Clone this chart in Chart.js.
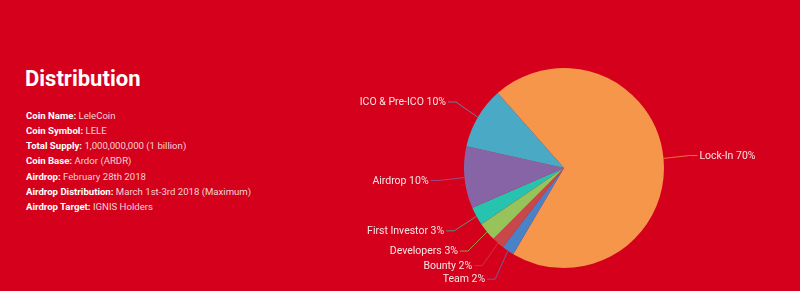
<!DOCTYPE html>
<html><head><meta charset="utf-8">
<script src="https://cdn.jsdelivr.net/npm/chart.js@4/dist/chart.umd.min.js"></script>
<style>
html,body{margin:0;padding:0;width:800px;height:291px;overflow:hidden;background:#D5001B;font-family:Roboto,sans-serif;}
#title{position:absolute;left:25px;top:65.5px;font:700 22px/26px Roboto,sans-serif;color:#fff;margin:0;white-space:nowrap}
#info{position:absolute;left:26px;top:107.5px;font-size:9.6px;line-height:15.33px;color:#f4d2d5;white-space:nowrap}
#info b{color:#fff;font-weight:700}
#wrap{position:absolute;left:0;top:0;width:800px;height:291px}
</style></head><body>
<div id="title">Distribution</div>
<div id="info"></div>
<div id="wrap"><canvas id="c"></canvas></div>
<script>
const categories = ['Lock-In','Team','Bounty','Developers','First Investor','Airdrop','ICO & Pre-ICO'];
const shares = [70, 2, 2, 3, 3, 10, 10];
const sliceColors = ['#F5964A','#4A82C6','#C8474B','#98C35A','#28C3AE','#8764A5','#4AAAC6'];
const infoKeys = ['Coin Name:','Coin Symbol:','Total Supply:','Coin Base:','Airdrop:','Airdrop Distribution:','Airdrop Target:'];
const infoValues = ['LeleCoin','LELE','1,000,000,000 (1 billion)','Ardor (ARDR)','February 28th 2018','March 1st-3rd 2018 (Maximum)','IGNIS Holders'];

const info = document.getElementById('info');
infoKeys.forEach((k,i)=>{
  const d = document.createElement('div');
  const b = document.createElement('b'); b.textContent = k;
  d.appendChild(b); d.appendChild(document.createTextNode(' ' + infoValues[i]));
  info.appendChild(d);
});

const labelPlugin = {
  id:'outLabels',
  afterDatasetsDraw(chart){
    const ctx = chart.ctx;
    const meta = chart.getDatasetMeta(0);
    const items = [];
    meta.data.forEach((arc,i)=>{
      const p = arc.getProps(['x','y','startAngle','endAngle','outerRadius'], true);
      const mid = (p.startAngle+p.endAngle)/2;
      const cos=Math.cos(mid), sin=Math.sin(mid);
      items.push({i, ex:p.x+p.outerRadius*cos, ey:p.y+p.outerRadius*sin,
        ax:p.x+(p.outerRadius+30)*cos, ay:p.y+(p.outerRadius+30)*sin,
        left: cos<0, text: categories[i]+' '+shares[i]+'%'});
    });
    [true,false].forEach(side=>{
      const arr = items.filter(o=>o.left===side).sort((a,b)=>a.ay-b.ay);
      for(let k=1;k<arr.length;k++){ if(arr[k].ay < arr[k-1].ay+13.5) arr[k].ay = arr[k-1].ay+13.5; }
    });
    ctx.save();
    ctx.font = '10.5px Roboto, sans-serif';
    ctx.textBaseline='middle';
    items.forEach(o=>{
      const dir = o.left?-1:1;
      ctx.globalAlpha=0.75; ctx.strokeStyle = sliceColors[o.i]; ctx.lineWidth=1;
      ctx.beginPath(); ctx.moveTo(o.ex,o.ey); ctx.lineTo(o.ax - dir*4, o.ay); ctx.lineTo(o.ax+dir*4, o.ay); ctx.stroke();
      ctx.globalAlpha=1;
      ctx.fillStyle='#f8e4e4';
      ctx.textAlign = o.left?'right':'left';
      ctx.fillText(o.text, o.ax + dir*6, o.ay + 0.5);
    });
    ctx.restore();
  }
};

new Chart(document.getElementById('c'), {
  type:'pie',
  data:{ labels: categories, datasets:[{ data: shares, backgroundColor: sliceColors, borderWidth:0, hoverOffset:0 }]},
  options:{
    responsive:true, maintainAspectRatio:false, animation:false,
    rotation:-41.5,
    layout:{ padding:{ left:464, right:136, top:68, bottom:23 } },
    plugins:{ legend:{display:false}, tooltip:{enabled:false} },
    events:[]
  },
  plugins:[labelPlugin]
});
</script>
</body></html>
